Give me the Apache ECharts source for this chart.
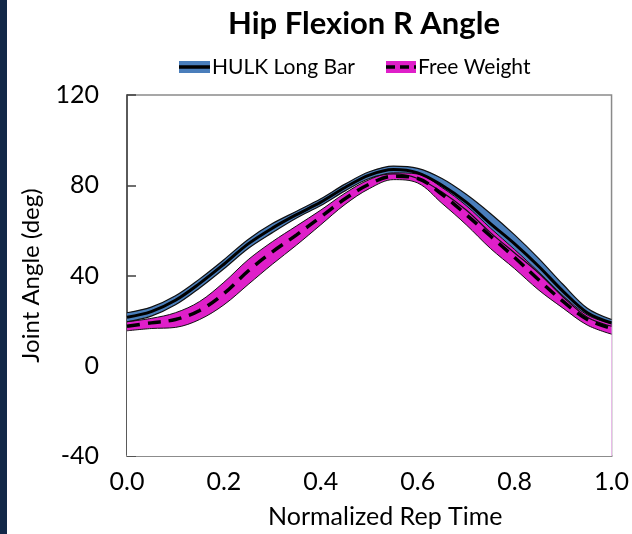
<!DOCTYPE html>
<html>
<head>
<meta charset="utf-8">
<script src="https://cdn.jsdelivr.net/npm/echarts@6/dist/echarts.min.js"></script>
<style>
html,body{margin:0;padding:0;background:#fff;}
#chart{width:632px;height:534px;}
</style>
</head>
<body>
<div id="chart"></div>
<script>
const timePoints = [0, 0.05, 0.1, 0.15, 0.2, 0.25, 0.3, 0.35, 0.4, 0.45, 0.5, 0.55, 0.6, 0.65, 0.7, 0.75, 0.8, 0.85, 0.9, 0.95, 1.0];
const hulkUpper = [23.5, 26, 31, 38.5, 47, 56, 63, 68.5, 74, 80.5, 86, 88.5, 87.5, 83, 76, 67.5, 58, 47.5, 36, 25.5, 20.5];
const hulkMean  = [21.5, 24, 29, 36.5, 45, 54, 61, 67, 72.5, 79, 84.5, 87, 85.5, 80, 72.5, 63, 54, 44, 33, 23.5, 19];
const hulkLower = [19.5, 22, 27, 34.5, 43, 52, 59, 65.5, 71, 77.5, 83, 85, 83, 77, 69, 59, 50, 41, 30.5, 21.5, 17.5];
const fwUpper   = [19.5, 21, 23.5, 28.5, 37, 47, 55, 62, 69, 76.5, 82.5, 85.5, 85, 79, 71, 61, 51.5, 41.5, 31, 22.5, 18.5];
const fwMean    = [17.5, 19, 20.5, 24.5, 32, 42, 50.5, 58, 66, 74, 80.5, 84, 83, 76, 67, 57.5, 48, 38, 28.5, 20.5, 16.5];
const fwLower   = [15.5, 16.5, 17, 20.5, 27, 36, 45, 53.5, 62.5, 71.5, 78.5, 82.5, 81, 72, 62.5, 52, 43, 33.5, 25.5, 18, 14];
const xTickLabels = ['0.0', '0.2', '0.4', '0.6', '0.8', '1.0'];
const yTickLabels = ['-40', '0', '40', '80', '120'];
const seriesNames = ['HULK Long Bar', 'Free Weight'];

const BLUE = '#4a7ebb';
const MAGENTA = '#df1fc9';
const FONT = 'Lato';

const pairs = (arr) => timePoints.map((t, i) => [t, arr[i]]);
const SM = 0.35;

// filled area from the curve down to the axis minimum
function fill(arr, color, z) {
  return { type: 'line', data: pairs(arr), smooth: SM, symbol: 'none', silent: true,
           lineStyle: { opacity: 0 }, areaStyle: { color: color, opacity: 1, origin: 'start' }, z: z };
}
function outline(arr, w) {
  return { type: 'line', data: pairs(arr), smooth: SM, symbol: 'none', silent: true,
           lineStyle: { color: '#111', width: w }, z: 6 };
}

const chart = echarts.init(document.getElementById('chart'), null, { renderer: 'canvas' });
const L = { x: 179, y: 67 };
chart.setOption({
  animation: false,
  backgroundColor: '#ffffff',
  title: {
    text: 'Hip Flexion R Angle',
    left: 223, top: 3,
    textStyle: { fontFamily: FONT, fontWeight: 'bold', fontSize: 31, color: '#000' }
  },
  grid: { left: 127, top: 95, right: 20, bottom: 78, show: true, borderColor: '#8a8a8a', borderWidth: 1.5, backgroundColor: '#fff' },
  xAxis: {
    type: 'value', min: 0, max: 1, interval: 0.2,
    name: 'Normalized Rep Time', nameLocation: 'middle', nameGap: 48,
    nameTextStyle: { fontFamily: FONT, fontSize: 25, color: '#000', padding: [0, 0, 0, 32] },
    axisLine: { show: true, onZero: false, lineStyle: { color: '#8c8c8c', width: 2 } },
    axisTick: { show: false },
    splitLine: { show: false },
    axisLabel: { margin: 13, fontFamily: FONT, fontSize: 25, color: '#000',
      formatter: (v) => xTickLabels[Math.round(v / 0.2)] }
  },
  yAxis: {
    type: 'value', min: -40, max: 120, interval: 40,
    name: 'Joint Angle (deg)', nameLocation: 'middle', nameGap: 84,
    nameTextStyle: { fontFamily: FONT, fontSize: 24, color: '#000' },
    axisLine: { show: true, onZero: false, lineStyle: { color: '#404040', width: 1.5 } },
    axisTick: { show: true, inside: true, length: 9, lineStyle: { color: '#404040', width: 1.5 } },
    splitLine: { show: false },
    axisLabel: { margin: 28, fontFamily: FONT, fontSize: 25, color: '#000',
      formatter: (v) => yTickLabels[Math.round((v + 40) / 40)] }
  },
  graphic: [
    { type: 'rect', left: 0, top: 0, shape: { x: 0, y: 0, width: 7, height: 534 }, style: { fill: '#122848' }, z: 100 },
    { type: 'rect', shape: { x: L.x, y: L.y - 6, width: 31, height: 12 }, style: { fill: BLUE }, z: 100 },
    { type: 'line', shape: { x1: L.x, y1: L.y, x2: L.x + 31, y2: L.y }, style: { stroke: '#000', lineWidth: 3.5 }, z: 101 },
    { type: 'text', x: L.x + 33, y: L.y, style: { text: seriesNames[0], fontFamily: FONT, fontSize: 21, fill: '#000', textVerticalAlign: 'middle', verticalAlign: 'middle' }, z: 101 },
    { type: 'rect', shape: { x: 386, y: L.y - 6, width: 30, height: 12 }, style: { fill: MAGENTA }, z: 100 },
    { type: 'line', shape: { x1: 386, y1: L.y, x2: 416, y2: L.y }, style: { stroke: '#000', lineWidth: 3.5, lineDash: [9, 5] }, z: 101 },
    { type: 'text', x: 418, y: L.y, style: { text: seriesNames[1], fontFamily: FONT, fontSize: 21, fill: '#000', textVerticalAlign: 'middle', verticalAlign: 'middle' }, z: 101 }
  ],
  series: [
    fill(hulkUpper, BLUE, 1),
    fill(hulkLower, '#ffffff', 2),
    fill(fwUpper, MAGENTA, 3),
    fill(fwLower, '#ffffff', 4),
    outline(hulkUpper, 1.2),
    outline(hulkLower, 1.2),
    outline(fwUpper, 1),
    outline(fwLower, 1),
    { name: seriesNames[0], type: 'line', data: pairs(hulkMean), smooth: SM, symbol: 'none',
      lineStyle: { color: '#000', width: 3 }, z: 7 },
    { name: seriesNames[1], type: 'line', data: pairs(fwMean), smooth: SM, symbol: 'none',
      lineStyle: { color: '#000', width: 3.5, type: [13, 8] }, z: 7 }
  ]
});
</script>
</body>
</html>
